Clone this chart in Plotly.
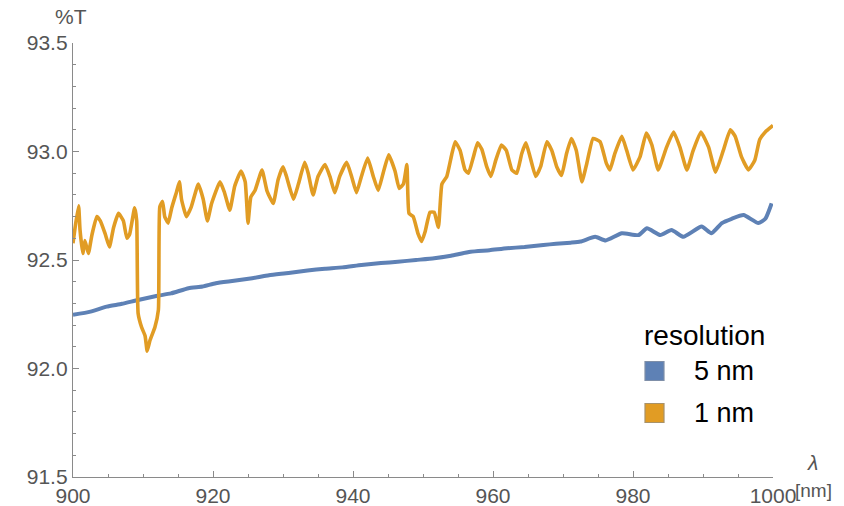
import plotly.graph_objects as go

# ---- data ----
lam_1nm = [900.0, 900.3, 900.8, 901.0, 901.4, 901.7, 902.2, 902.7, 903.4, 903.9, 904.6, 905.2, 905.8, 906.5,
           907.2, 907.7, 908.1, 908.8, 909.1, 909.3, 909.8, 910.3, 910.6, 911.0, 911.7, 912.2, 912.4, 912.8,
           913.1, 913.6, 914.1, 914.8, 915.2, 915.5, 916.2, 916.9, 917.9, 918.6, 919.2, 919.8, 921.0, 921.6,
           922.4, 923.1, 924.0, 924.6, 925.0, 925.4, 926.0, 927.0, 927.7, 928.6, 929.3, 930.0, 930.5, 931.5,
           932.2, 933.1, 933.6, 934.3, 935.0, 936.0, 936.7, 937.4, 938.1, 939.1, 939.8, 940.5, 941.2, 942.1,
           942.9, 943.6, 944.3, 945.1, 946.0, 946.6, 947.2, 947.7, 948.0, 948.6, 949.3, 949.8, 950.3, 951.0,
           951.6, 952.2, 952.7, 953.4, 954.1, 954.6, 955.3, 956.0, 956.5, 957.2, 957.8, 958.4, 959.1, 959.7,
           960.4, 961.2, 961.9, 962.7, 963.4, 964.1, 964.7, 965.3, 966.1, 966.8, 967.7, 968.4, 969.1, 969.8,
           970.5, 971.2, 971.9, 972.7, 973.4, 974.3, 975.3, 976.2, 976.7, 977.4, 978.4, 979.1, 980.0, 981.0,
           981.9, 982.7, 983.6, 984.8, 985.8, 986.7, 987.7, 988.6, 989.7, 990.8, 991.8, 992.9, 993.9, 994.6,
           995.5, 996.5, 997.4, 998.1, 998.9, 1000.0]
T_1nm = [92.577, 92.65, 92.75, 92.64, 92.53, 92.59, 92.53, 92.615, 92.70, 92.68, 92.62, 92.56, 92.65, 92.715,
         92.68, 92.60, 92.62, 92.74, 92.68, 92.255, 92.19, 92.15, 92.08, 92.13, 92.19, 92.27, 92.745, 92.77,
         92.70, 92.67, 92.74, 92.815, 92.86, 92.78, 92.70, 92.745, 92.85, 92.78, 92.68, 92.76, 92.86, 92.815,
         92.73, 92.84, 92.91, 92.86, 92.67, 92.79, 92.82, 92.915, 92.82, 92.76, 92.87, 92.93, 92.885, 92.78,
         92.85, 92.95, 92.90, 92.80, 92.885, 92.94, 92.885, 92.81, 92.885, 92.95, 92.885, 92.81, 92.885, 92.97,
         92.885, 92.82, 92.90, 92.985, 92.91, 92.83, 92.85, 92.94, 92.715, 92.70, 92.62, 92.585, 92.63, 92.72,
         92.72, 92.65, 92.85, 92.885, 92.985, 93.045, 93.005, 92.915, 92.90, 92.975, 93.04, 93.01, 92.93, 92.885,
         92.96, 93.03, 93.005, 92.915, 92.90, 92.99, 93.04, 92.975, 92.885, 92.93, 93.045, 93.005, 92.93, 92.89,
         92.99, 93.06, 93.005, 92.86, 92.945, 93.06, 93.045, 92.945, 92.915, 92.99, 93.07, 93.005, 92.915, 92.975,
         93.085, 93.03, 92.915, 93.02, 93.09, 93.02, 92.915, 93.005, 93.09, 93.02, 92.905, 93.005, 93.10, 93.07,
         92.975, 92.915, 92.96, 93.055, 93.09, 93.12]

lam_5nm = [900.0, 902.5, 904.8, 907.0, 909.3, 911.9, 914.0, 916.5, 918.5, 920.4, 923.0, 925.6, 928.0, 930.8,
           933.5, 936.0, 938.5, 941.2, 944.0, 946.4, 949.0, 951.6, 954.0, 956.8, 959.5, 962.0, 964.5, 967.2,
           969.0, 971.1, 972.5, 974.6, 976.1, 978.4, 980.8, 982.0, 983.9, 985.5, 987.2, 989.8, 991.2, 992.7,
           994.1, 995.8, 997.9, 998.9, 999.8]
T_5nm = [92.247, 92.262, 92.285, 92.298, 92.316, 92.334, 92.346, 92.37, 92.378, 92.393, 92.404, 92.416, 92.43,
         92.44, 92.452, 92.46, 92.466, 92.477, 92.486, 92.492, 92.50, 92.508, 92.52, 92.538, 92.545, 92.554,
         92.56, 92.569, 92.575, 92.58, 92.585, 92.607, 92.59, 92.623, 92.615, 92.646, 92.615, 92.638, 92.607,
         92.654, 92.623, 92.67, 92.69, 92.707, 92.67, 92.69, 92.761]

series_names = ["5 nm", "1 nm"]
legend_title = "resolution"
x_ticks = [900, 920, 940, 960, 980, 1000]
y_ticks = [91.5, 92.0, 92.5, 93.0, 93.5]

BLUE = "#5E81B5"
ORANGE = "#E19C24"
AX = "#8a8a8a"
LBL = "#555555"
FONT = "Liberation Sans, Arial, sans-serif"

fig = go.Figure()
fig.add_trace(go.Scatter(x=lam_5nm, y=T_5nm, mode="lines",
                         line=dict(color=BLUE, width=4, shape="spline", smoothing=0.5),
                         showlegend=False, name=series_names[0]))
fig.add_trace(go.Scatter(x=lam_1nm, y=T_1nm, mode="lines",
                         line=dict(color=ORANGE, width=3.6, shape="spline", smoothing=0.4),
                         showlegend=False, name=series_names[1]))

fig.update_layout(
    width=844, height=506,
    margin=dict(l=73, r=71, t=43, b=29, autoexpand=False),
    paper_bgcolor="white", plot_bgcolor="white",
    font=dict(family=FONT, size=21, color=LBL),
    showlegend=False,
)
fig.update_xaxes(range=[900, 1000], tickvals=x_ticks, ticktext=[str(v) for v in x_ticks],
                 automargin=False,
                 showgrid=False, zeroline=False, showline=True, linecolor=AX, linewidth=1.3,
                 ticks="inside", ticklen=6, tickcolor=AX, tickwidth=1.3,
                 tickfont=dict(family=FONT, size=21, color=LBL),
                 minor=dict(dtick=5, ticks="inside", ticklen=3, tickcolor=AX, tickwidth=1.2, showgrid=False))
fig.update_yaxes(range=[91.5, 93.5], tickvals=y_ticks, ticktext=[f"{v:.1f}" for v in y_ticks],
                 automargin=False,
                 showgrid=False, zeroline=False, showline=True, linecolor=AX, linewidth=1.3,
                 ticks="inside", ticklen=6, tickcolor=AX, tickwidth=1.3,
                 tickfont=dict(family=FONT, size=21, color=LBL),
                 minor=dict(dtick=0.1, ticks="inside", ticklen=3, tickcolor=AX, tickwidth=1.2, showgrid=False))

# axis labels
fig.add_annotation(text="%T", xref="paper", yref="paper", x=0, y=1, xshift=-2, yshift=27,
                   xanchor="center", yanchor="middle", showarrow=False,
                   font=dict(family=FONT, size=21, color=LBL))
fig.add_annotation(text="<i>λ</i>", xref="paper", yref="paper", x=1, y=0, xshift=39, yshift=15,
                   xanchor="center", yanchor="middle", showarrow=False,
                   font=dict(family=FONT, size=21, color=LBL))
fig.add_annotation(text="[nm]", xref="paper", yref="paper", x=1, y=0, xshift=40, yshift=-13,
                   xanchor="center", yanchor="middle", showarrow=False,
                   font=dict(family=FONT, size=19, color=LBL))

# legend (drawn manually to get square swatches)
fig.add_annotation(text=legend_title, xref="paper", yref="paper", x=(704 - 73) / 700, y=(477 - 335) / 434,
                   xanchor="center", yanchor="middle", showarrow=False,
                   font=dict(family=FONT, size=28, color="black"))
swatch_colors = [BLUE, ORANGE]
border_colors = ["#7f8fa8", "#a8926a"]
for i, (nm, col) in enumerate(zip(series_names, swatch_colors)):
    yc = (477 - (371 + i * 42)) / 434
    fig.add_shape(type="rect", xref="paper", yref="paper",
                  x0=(645 - 73) / 700, x1=(664 - 73) / 700,
                  y0=yc - 9.5 / 434, y1=yc + 9.5 / 434,
                  fillcolor=col, line=dict(color=border_colors[i], width=1.2))
    fig.add_annotation(text=nm, xref="paper", yref="paper", x=(692 - 73) / 700, y=yc,
                       xanchor="left", yanchor="middle", showarrow=False,
                       font=dict(family=FONT, size=27, color="black"))

fig.write_html("out.html")
